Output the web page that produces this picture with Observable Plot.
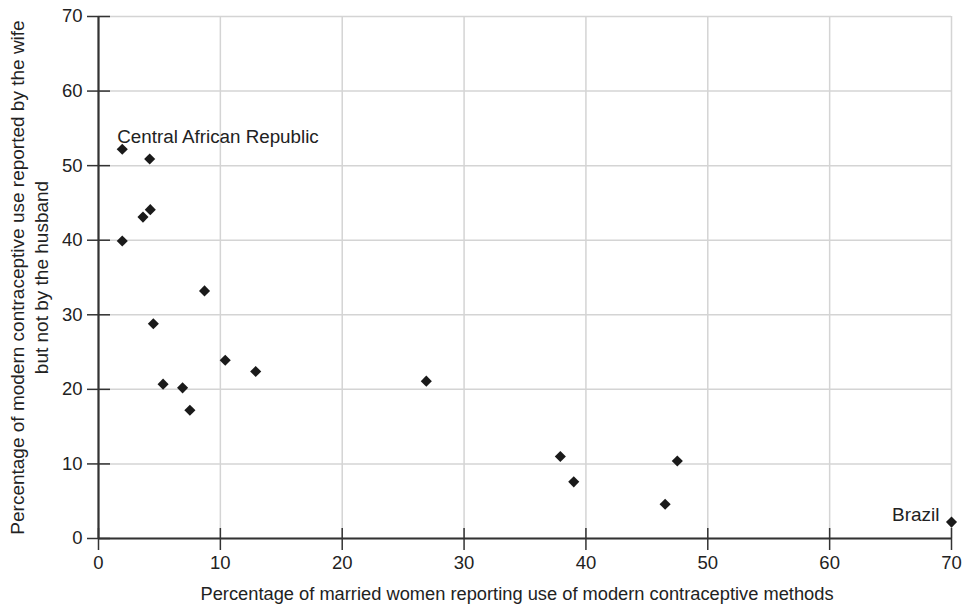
<!DOCTYPE html>
<html>
<head>
<meta charset="utf-8">
<script src="https://cdn.jsdelivr.net/npm/d3@7"></script>
<script src="https://cdn.jsdelivr.net/npm/@observablehq/plot@0.6"></script>
<style>
  html, body { margin: 0; padding: 0; background: #fff; }
  #chart svg { display: block; }
</style>
</head>
<body>
<div id="chart"></div>
<script>
// Percentage of married women reporting use of modern contraceptive methods
const xValues = [1.95, 4.2, 3.65, 4.25, 1.95, 8.7, 4.5, 10.4, 12.9, 5.3, 6.9, 7.5, 26.9, 37.9, 39.0, 47.5, 46.5, 70.0];
// Percentage of modern contraceptive use reported by the wife but not by the husband
const yValues = [52.2, 50.9, 43.1, 44.1, 39.9, 33.2, 28.8, 23.9, 22.4, 20.7, 20.2, 17.2, 21.1, 11.0, 7.6, 10.4, 4.6, 2.2];
const pointLabels = ["Central African Republic", "", "", "", "", "", "", "", "", "", "", "", "", "", "", "", "", "Brazil"];
const xTicks = [0, 10, 20, 30, 40, 50, 60, 70];
const yTicks = [0, 10, 20, 30, 40, 50, 60, 70];
const xTitle = "Percentage of married women reporting use of modern contraceptive methods";
const yTitle = "Percentage of modern contraceptive use reported by the wife\nbut not by the husband";

const points = xValues.map((x, i) => ({x, y: yValues[i], label: pointLabels[i]}));
const leftLabels = points.filter(d => d.label && d.x < 35);
const rightLabels = points.filter(d => d.label && d.x >= 35);

const chart = Plot.plot({
  width: 965,
  height: 612,
  marginLeft: 98,
  marginRight: 14,
  marginTop: 16,
  marginBottom: 74,
  style: {fontFamily: "'Liberation Sans', Arial, sans-serif", fontSize: "18px", color: "#222", background: "#fff"},
  x: {domain: [0, 70]},
  y: {domain: [0, 70]},
  marks: [
    Plot.gridX(xTicks, {stroke: "#d4d4d4", strokeOpacity: 1, strokeWidth: 1.5}),
    Plot.gridY(yTicks, {stroke: "#d4d4d4", strokeOpacity: 1, strokeWidth: 1.5}),
    Plot.ruleX([0], {stroke: "#333", strokeWidth: 2.2}),
    Plot.ruleY([0], {stroke: "#333", strokeWidth: 2.2}),
    Plot.axisY(yTicks, {tickSize: 23, dx: 12, fill: "none", stroke: "#333", strokeWidth: 1.5, label: null}),
    Plot.axisY(yTicks, {tickSize: 0, tickPadding: 16, fill: "#222", fontSize: 18.5, label: null}),
    Plot.axisX(xTicks, {tickSize: 22, dy: -10, fill: "none", stroke: "#333", strokeWidth: 1.5, label: null}),
    Plot.axisX(xTicks, {tickSize: 0, tickPadding: 17, fill: "#222", fontSize: 18.5, label: null}),
    Plot.dot(points, {x: "x", y: "y", symbol: "diamond2", r: 5, fill: "#1a1a1a", stroke: "none"}),
    Plot.text(leftLabels, {x: "x", y: "y", text: "label", textAnchor: "start", dx: -5, dy: -12, fontSize: 18.8, fill: "#222"}),
    Plot.text(rightLabels, {x: "x", y: "y", text: "label", textAnchor: "end", dx: -12, dy: -7, fontSize: 19, fill: "#222"}),
    Plot.text([xTitle], {frameAnchor: "bottom", textAnchor: "middle", dy: 61, dx: -8, fontSize: 18.3, fill: "#222"}),
    Plot.text([yTitle], {frameAnchor: "left", textAnchor: "middle", dx: -70, rotate: -90, lineHeight: 1.24, fontSize: 19, fill: "#222"})
  ]
});
document.getElementById("chart").appendChild(chart);
</script>
</body>
</html>
